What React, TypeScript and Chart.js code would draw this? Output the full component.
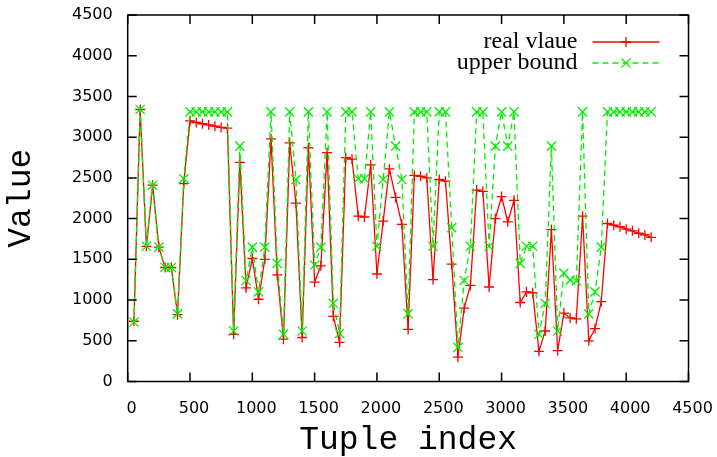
import React, { useEffect, useRef } from 'react';
import { Chart, registerables } from 'chart.js';

Chart.register(...registerables);

const tupleIndex = [
  50, 100, 150, 200, 250, 300, 350, 400, 450, 500, 550, 600, 650, 700, 750, 800,
  850, 900, 950, 1000, 1050, 1100, 1150, 1200, 1250, 1300, 1350, 1400, 1450, 1500,
  1550, 1600, 1650, 1700, 1750, 1800, 1850, 1900, 1950, 2000, 2050, 2100, 2150, 2200,
  2250, 2300, 2350, 2400, 2450, 2500, 2550, 2600, 2650, 2700, 2750, 2800, 2850, 2900,
  2950, 3000, 3050, 3100, 3150, 3200, 3250, 3300, 3350, 3400, 3450, 3500, 3550, 3600,
  3650, 3700, 3750, 3800, 3850, 3900, 3950, 4000, 4050, 4100, 4150, 4200,
];

const realValue = [
  740, 3340, 1660, 2410, 1650, 1400, 1400, 820, 2430, 3200, 3180, 3165, 3150, 3135, 3120, 3110,
  580, 2690, 1150, 1510, 1010, 1500, 2980, 1310, 520, 2930, 2190, 540, 2870, 1220,
  1420, 2810, 800, 480, 2750, 2730, 2030, 2020, 2660, 1320, 1970, 2610, 2260, 1930,
  640, 2530, 2520, 2500, 1250, 2480, 2460, 1440, 300, 900, 1180, 2350, 2335, 1160,
  2000, 2270, 1960, 2225, 970, 1100, 1090, 370, 620, 1865, 380, 840, 780, 770,
  2030, 500, 650, 980, 1940, 1920, 1900, 1870, 1850, 1820, 1800, 1770,
];

const upperBound = [
  730, 3340, 1660, 2410, 1650, 1400, 1400, 830, 2490, 3310, 3310, 3310, 3310, 3310, 3310, 3310,
  620, 2890, 1240, 1650, 1100, 1650, 3310, 1450, 580, 3310, 2480, 620, 3310, 1430,
  1650, 3310, 960, 590, 3310, 3310, 2490, 2490, 3310, 1660, 2480, 3310, 2890, 2480,
  830, 3310, 3310, 3310, 1660, 3310, 3310, 1890, 420, 1240, 1660, 3310, 3310, 1660,
  2890, 3310, 2890, 3310, 1450, 1660, 1660, 580, 960, 2890, 620, 1330, 1245, 1235,
  3310, 830, 1100, 1650, 3310, 3310, 3310, 3310, 3310, 3310, 3310, 3310,
];

const xTicks = [0, 500, 1000, 1500, 2000, 2500, 3000, 3500, 4000, 4500];
const yTicks = [0, 500, 1000, 1500, 2000, 2500, 3000, 3500, 4000, 4500];
const seriesNames = ['real vlaue', 'upper bound'];
const xTitle = 'Tuple index';
const yTitle = 'Value';

const RED = '#ff0000';
const GREEN = '#00ee00';

const gnuplotFrame = {
  id: 'gnuplotFrame',
  afterDraw(chart: any) {
    const { ctx, chartArea: a, scales } = chart;
    ctx.save();
    ctx.strokeStyle = '#000';
    ctx.lineWidth = 1.5;
    ctx.setLineDash([]);
    ctx.strokeRect(a.left, a.top, a.right - a.left, a.bottom - a.top);
    const tl = 9;
    ctx.beginPath();
    for (const v of xTicks) {
      const px = scales.x.getPixelForValue(v);
      ctx.moveTo(px, a.bottom);
      ctx.lineTo(px, a.bottom - tl);
      ctx.moveTo(px, a.top);
      ctx.lineTo(px, a.top + tl);
    }
    for (const v of yTicks) {
      const py = scales.y.getPixelForValue(v);
      ctx.moveTo(a.left, py);
      ctx.lineTo(a.left + tl, py);
      ctx.moveTo(a.right, py);
      ctx.lineTo(a.right - tl, py);
    }
    ctx.stroke();

    // legend (gnuplot style: text right-aligned, sample to the right)
    ctx.font = '24px "Liberation Serif"';
    ctx.textAlign = 'right';
    ctx.textBaseline = 'middle';
    ctx.fillStyle = '#000';
    const textRight = a.right - 111;
    const x0 = a.right - 96;
    const x1 = a.right - 29;
    const xm = (x0 + x1) / 2;
    seriesNames.forEach((name, i) => {
      const y = a.top + 27 + i * 21;
      ctx.fillText(name, textRight, y);
      const color = i === 0 ? RED : GREEN;
      ctx.strokeStyle = color;
      ctx.lineWidth = 1.3;
      ctx.setLineDash(i === 0 ? [] : [6, 4]);
      ctx.beginPath();
      ctx.moveTo(x0, y);
      ctx.lineTo(x1, y);
      ctx.stroke();
      ctx.setLineDash([]);
      ctx.beginPath();
      if (i === 0) {
        ctx.moveTo(xm - 5, y);
        ctx.lineTo(xm + 5, y);
        ctx.moveTo(xm, y - 5);
        ctx.lineTo(xm, y + 5);
      } else {
        ctx.moveTo(xm - 4.6, y - 4.6);
        ctx.lineTo(xm + 4.6, y + 4.6);
        ctx.moveTo(xm + 4.6, y - 4.6);
        ctx.lineTo(xm - 4.6, y + 4.6);
      }
      ctx.stroke();
    });
    ctx.restore();
  },
};

export default function App() {
  const canvasRef = useRef<HTMLCanvasElement | null>(null);

  useEffect(() => {
    const canvas = canvasRef.current;
    if (!canvas) return;
    const chart = new Chart(canvas, {
      type: 'line',
      data: {
        datasets: [
          {
            label: seriesNames[0],
            data: tupleIndex.map((x, i) => ({ x, y: realValue[i] })),
            borderColor: RED,
            backgroundColor: RED,
            borderWidth: 1.3,
            pointStyle: 'cross',
            pointRadius: 5,
            pointBorderWidth: 1.3,
            pointBorderColor: RED,
            tension: 0,
            fill: false,
            order: 1,
          },
          {
            label: seriesNames[1],
            data: tupleIndex.map((x, i) => ({ x, y: upperBound[i] })),
            borderColor: GREEN,
            backgroundColor: GREEN,
            borderWidth: 1.3,
            borderDash: [6, 4],
            pointStyle: 'crossRot',
            pointRadius: 6.5,
            pointBorderWidth: 1.3,
            pointBorderColor: GREEN,
            tension: 0,
            fill: false,
            order: 0,
          },
        ],
      },
      options: {
        animation: false,
        responsive: true,
        maintainAspectRatio: false,
        layout: { padding: { top: 15, right: 28.5, left: 0, bottom: 0 } },
        plugins: {
          legend: { display: false },
          tooltip: { enabled: false },
        },
        scales: {
          x: {
            type: 'linear',
            min: 0,
            max: 4500,
            afterBuildTicks: (scale: any) => {
              scale.ticks = xTicks.map((v) => ({ value: v }));
            },
            afterFit: (scale: any) => {
              scale.height = 75.5;
              scale.paddingLeft = 0;
              scale.paddingRight = 0;
            },
            grid: { display: false, drawTicks: false },
            border: { display: false },
            ticks: {
              color: '#000',
              font: { family: 'DejaVu Sans', size: 16 },
              padding: 18,
              labelOffset: 4,
              maxRotation: 0,
              autoSkip: false,
              callback: (v: any) => String(v),
            },
            title: {
              display: true,
              text: xTitle,
              color: '#000',
              font: { family: 'Liberation Mono', size: 33, lineHeight: 1 },
              padding: { top: 0, bottom: 0 },
            },
          },
          y: {
            type: 'linear',
            min: 0,
            max: 4500,
            afterBuildTicks: (scale: any) => {
              scale.ticks = yTicks.map((v) => ({ value: v }));
            },
            afterFit: (scale: any) => {
              scale.width = 127.7;
              scale.paddingTop = 0;
              scale.paddingBottom = 0;
            },
            grid: { display: false, drawTicks: false },
            border: { display: false },
            ticks: {
              color: '#000',
              font: { family: 'DejaVu Sans', size: 16 },
              padding: 15,
              autoSkip: false,
              callback: (v: any) => String(v),
            },
            title: {
              display: true,
              text: yTitle,
              color: '#000',
              font: { family: 'Liberation Mono', size: 33, lineHeight: 1 },
              padding: { top: 5, bottom: 0 },
            },
          },
        },
      },
      plugins: [gnuplotFrame],
    });
    return () => chart.destroy();
  }, []);

  return (
    <div
      style={{
        position: 'fixed',
        left: 0,
        top: 0,
        width: 717,
        height: 457,
        background: '#fff',
      }}
    >
      <canvas ref={canvasRef} />
    </div>
  );
}
